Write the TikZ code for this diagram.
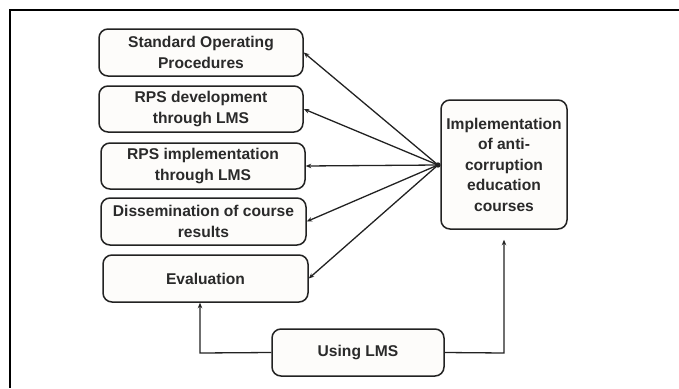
\documentclass[tikz,border=0pt]{standalone}
\usepackage{fontspec}
\setmainfont{Liberation Sans}
\usetikzlibrary{arrows.meta}
\definecolor{txt}{HTML}{2A2A2A}
\definecolor{boxfill}{HTML}{FDFCFA}
\definecolor{edge}{HTML}{222222}
\tikzset{
  box/.style={draw=edge, fill=boxfill, line width=1.5pt, rounded corners=9pt,
    align=center, inner sep=0pt, text=txt,
    font=\fontsize{15.6}{20.5}\selectfont\bfseries},
  conn/.style={draw=edge, line width=1.3pt, -{Stealth[length=5.5pt,width=4.5pt]}},
}
\begin{document}
\begin{tikzpicture}[x=1pt,y=-1pt]
\useasboundingbox (0,0) rectangle (679,388);
\draw[line width=1.6pt, black] (679,10) -- (10,10) -- (10,388);
\node[box, minimum width=204pt, minimum height=47pt] (b1) at (201,52.5) {Standard Operating\\Procedures};
\node[box, minimum width=204pt, minimum height=46pt] (b2) at (201,109) {RPS development\\through LMS};
\node[box, minimum width=204pt, minimum height=46pt] (b3) at (203,166) {RPS implementation\\through LMS};
\node[box, minimum width=205pt, minimum height=47pt] (b4) at (203.5,221.5) {Dissemination of course\\results};
\node[box, minimum width=205pt, minimum height=47pt] (b5) at (205.5,278.5) {Evaluation};
\node[box, minimum width=172pt, minimum height=47pt] (use) at (358,352.5) {Using LMS};
\node[box, minimum width=126pt, minimum height=129pt] (impl) at (504,164.5) {Implementation\\of anti-\\corruption\\education\\courses};
\coordinate (hub) at (438,165);
\fill[edge] (hub) circle (2.7pt);
\foreach \b in {b1,b2,b3,b4,b5} \draw[conn] (hub) -- (\b.east);
\coordinate (lc) at (200,353);
\coordinate (rc) at (504,353);
\draw[conn] (use.west) -- (lc) -- (b5.south -| lc);
\draw[conn, shorten >=10pt] (use.east) -- (rc) -- (impl.south);
\end{tikzpicture}
\end{document}
